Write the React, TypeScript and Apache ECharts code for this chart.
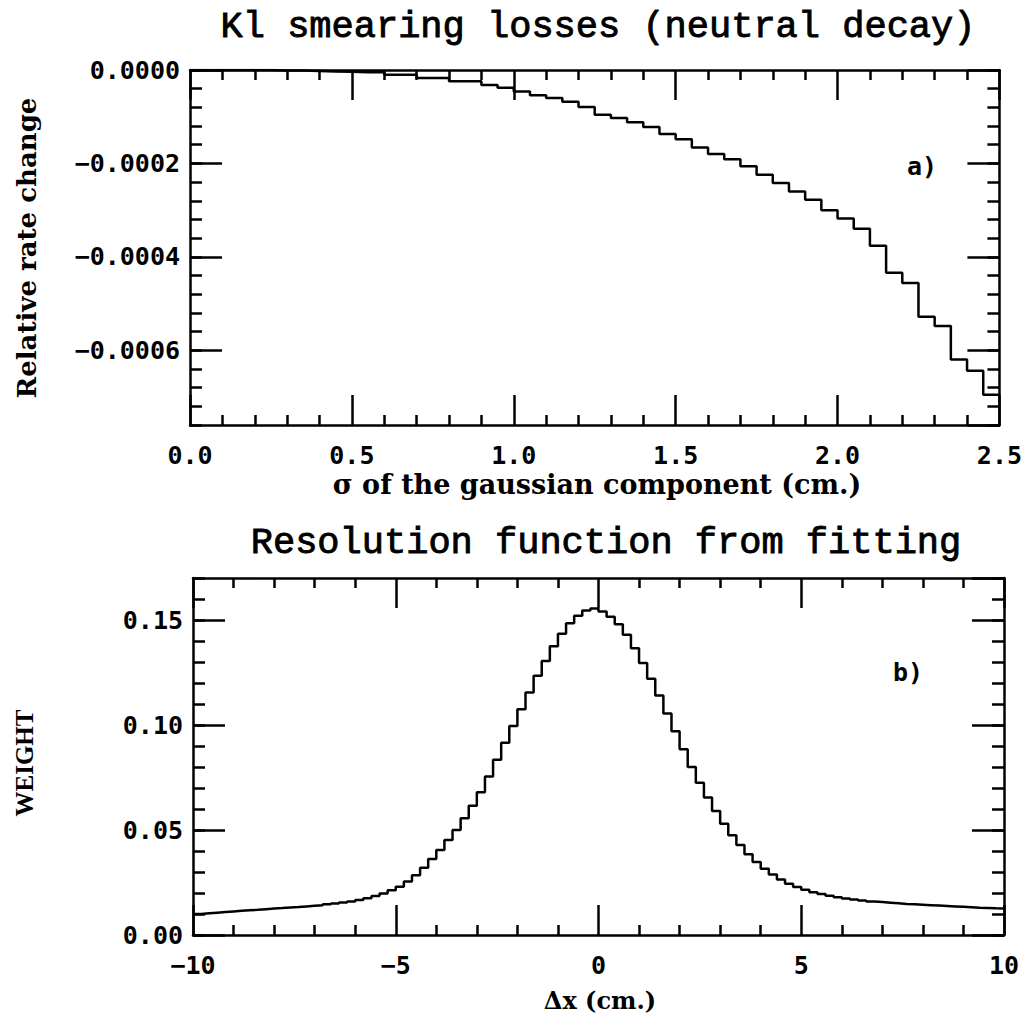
import React, { useEffect, useRef } from "react";
import * as echarts from "echarts";

// ---- Panel a) : relative rate change vs sigma (bins of 0.05 cm)
const topBinStart = 0;
const topBinWidth = 0.05;
const topValues = [
  0, 0, 0, 0, 0, -0.000001, -0.000001, -0.000002, -0.000003, -0.000004,
  -0.000005, -0.000005, -0.00001, -0.00001, -0.000017, -0.000017, -0.000024, -0.000024, -0.000032, -0.000038,
  -0.000046, -0.000054, -0.00006, -0.000068, -0.000079, -0.000096, -0.000103, -0.000112, -0.000122, -0.000137,
  -0.000148, -0.000166, -0.00018, -0.000191, -0.000206, -0.000224, -0.000242, -0.00026, -0.000278, -0.0003,
  -0.000318, -0.00034, -0.000376, -0.000434, -0.000456, -0.000528, -0.000548, -0.00062, -0.000644, -0.000695,
];

// ---- Panel b) : resolution function (bins of 0.2 cm)
const botBinStart = -10;
const botBinWidth = 0.2;
const botLeftTail = [
  0.0100, 0.0103, 0.0106, 0.0109, 0.0112, 0.0115, 0.0118, 0.0120, 0.0123, 0.0126,
  0.0128, 0.0131, 0.0133, 0.0136, 0.0139, 0.0142, 0.0146, 0.0150, 0.0155, 0.0160,
];
const botRise = [
  0.0167, 0.0175, 0.0186, 0.0198, 0.0213, 0.0230, 0.0255, 0.0285, 0.0320, 0.0362,
  0.0405, 0.0452, 0.0500, 0.0556, 0.0615, 0.0680, 0.0755, 0.0835, 0.0915, 0.0995,
  0.1075, 0.1155, 0.1235, 0.1305, 0.1375, 0.1435, 0.1485, 0.1520, 0.1545, 0.1555,
];
const botFall = [
  0.1540, 0.1515, 0.1480, 0.1430, 0.1365, 0.1295, 0.1220, 0.1140, 0.1055, 0.0970,
  0.0885, 0.0800, 0.0725, 0.0655, 0.0590, 0.0530, 0.0475, 0.0428, 0.0385, 0.0348,
  0.0316, 0.0288, 0.0264, 0.0244, 0.0228, 0.0215, 0.0204, 0.0195, 0.0187, 0.0180,
  0.0174, 0.0169, 0.0164, 0.0160, 0.0157, 0.0154, 0.0151, 0.0148, 0.0146, 0.0144,
  0.0142, 0.0140, 0.0138, 0.0136, 0.0134, 0.0132, 0.0130, 0.0129, 0.0127, 0.0126,
];
const botValues = [...botLeftTail, ...botRise, ...botFall];

// axis ranges / ticks
const topX = { min: 0, max: 2.5, interval: 0.5 };
// panel a) y axis is drawn as the magnitude (|change|) on an inverted axis,
// so tick counting starts from 0 at the top; labels carry the minus sign.
const topY = { min: 0, max: 0.00076, interval: 0.0002, minor: 0.00004 };
const botX = { min: -10, max: 10, interval: 5 };
const botY = { min: 0, max: 0.17, interval: 0.05, minor: 0.01 };

const titleA = "Kl smearing losses (neutral decay)";
const titleB = "Resolution function from fitting";
const xNameA = "σ of the gaussian component (cm.)";
const yNameA = "Relative rate change";
const xNameB = "Δx (cm.)";
const yNameB = "WEIGHT";

function stepData(start: number, width: number, values: number[], sign = 1) {
  const pts = values.map((v, i) => [start + i * width, sign * v]);
  pts.push([start + values.length * width, sign * values[values.length - 1]]);
  return pts;
}

const MINUS = "\u2212";
const labelFont = {
  fontFamily: "DejaVu Sans Mono",
  fontWeight: "bold",
  fontSize: 25,
  color: "#000",
};
const lineStyle = { color: "#000", width: 2.5 };
const tickStyle = { color: "#000", width: 2.5 };

function xAxes(gridIndex: number, r: any, fmt: (v: number) => string) {
  const base = {
    type: "value",
    gridIndex,
    min: r.min,
    max: r.max,
    interval: r.interval,
    splitLine: { show: false },
    axisLine: { show: true, onZero: false, lineStyle },
    axisTick: { show: true, inside: true, length: 30, lineStyle: tickStyle },
    minorTick: { show: true, splitNumber: 5, length: 10, lineStyle: tickStyle },
  };
  return [
    {
      ...base,
      position: "bottom",
      axisLabel: { ...labelFont, margin: 18, formatter: fmt },
    },
    { ...base, position: "top", axisLabel: { show: false } },
  ];
}

function yAxes(gridIndex: number, r: any, fmt: (v: number) => string, inverse: boolean) {
  const major = {
    type: "value",
    gridIndex,
    inverse,
    min: r.min,
    max: r.max,
    interval: r.interval,
    splitLine: { show: false },
    axisLine: { show: true, onZero: false, lineStyle },
    axisTick: { show: true, inside: true, length: 32, lineStyle: tickStyle },
  };
  const minor = {
    type: "value",
    gridIndex,
    inverse,
    min: r.min,
    max: r.max,
    interval: r.minor,
    splitLine: { show: false },
    axisLine: { show: false, onZero: false },
    axisLabel: { show: false },
    axisTick: { show: true, inside: true, length: 12, lineStyle: tickStyle },
  };
  return [
    {
      ...major,
      position: "left",
      axisLabel: {
        ...labelFont,
        margin: 10,
        formatter: fmt,
        showMinLabel: true,
        showMaxLabel: false,
      },
    },
    { ...minor, position: "left" },
    { ...major, position: "right", axisLabel: { show: false } },
    { ...minor, position: "right" },
  ];
}

function textEl(text: string, x: number, y: number, font: string, rotation = 0, strokeW = 0) {
  const style: any = {
    text,
    font,
    fill: "#000",
    textAlign: "center",
    textVerticalAlign: "middle",
  };
  if (strokeW > 0) {
    style.stroke = "#000";
    style.lineWidth = strokeW;
  }
  return { type: "text", x, y, rotation, silent: true, style };
}

export default function App() {
  const ref = useRef<HTMLDivElement>(null);

  useEffect(() => {
    if (!ref.current) return;
    const chart = echarts.init(ref.current, null, { renderer: "svg" });
    const fmtTopY = (v: number) =>
      Math.abs(v) < 1e-12 ? "0.0000" : MINUS + Math.abs(v).toFixed(4);
    const fmtTopX = (v: number) => v.toFixed(1);
    const fmtBotX = (v: number) => (v < 0 ? MINUS : "") + Math.abs(v).toFixed(0);
    const fmtBotY = (v: number) => v.toFixed(2);

    chart.setOption({
      animation: false,
      backgroundColor: "#fff",
      grid: [
        { left: 190, top: 70, width: 811, height: 355 },
        { left: 193, top: 578, width: 811, height: 357 },
      ],
      xAxis: [...xAxes(0, topX, fmtTopX), ...xAxes(1, botX, fmtBotX)],
      yAxis: [...yAxes(0, topY, fmtTopY, true), ...yAxes(1, botY, fmtBotY, false)],
      series: [
        {
          type: "line",
          xAxisIndex: 0,
          yAxisIndex: 0,
          step: "end",
          showSymbol: false,
          lineStyle,
          data: stepData(topBinStart, topBinWidth, topValues, -1),
        },
        {
          type: "line",
          xAxisIndex: 2,
          yAxisIndex: 4,
          step: "end",
          showSymbol: false,
          lineStyle,
          data: stepData(botBinStart, botBinWidth, botValues),
        },
      ],
      graphic: [
        textEl(titleA, 598, 27, "37px 'Liberation Mono'", 0, 0.9),
        textEl(titleB, 606, 543, "37px 'Liberation Mono'", 0, 0.9),
        textEl(xNameA, 597, 484, "bold 27px 'DejaVu Serif'"),
        textEl(yNameA, 27, 248, "bold 26px 'DejaVu Serif'", Math.PI / 2),
        textEl(xNameB, 600, 1000, "bold 24px 'DejaVu Serif'"),
        textEl(yNameB, 24, 763, "bold 25px 'Liberation Serif'", Math.PI / 2),
        textEl("a)", 922, 166, "bold 25px 'DejaVu Sans Mono'"),
        textEl("b)", 908, 672, "bold 25px 'DejaVu Sans Mono'"),
      ],
    });
    return () => chart.dispose();
  }, []);

  return (
    <div
      ref={ref}
      style={{ position: "absolute", left: 0, top: 0, width: 1025, height: 1015, background: "#fff" }}
    />
  );
}
